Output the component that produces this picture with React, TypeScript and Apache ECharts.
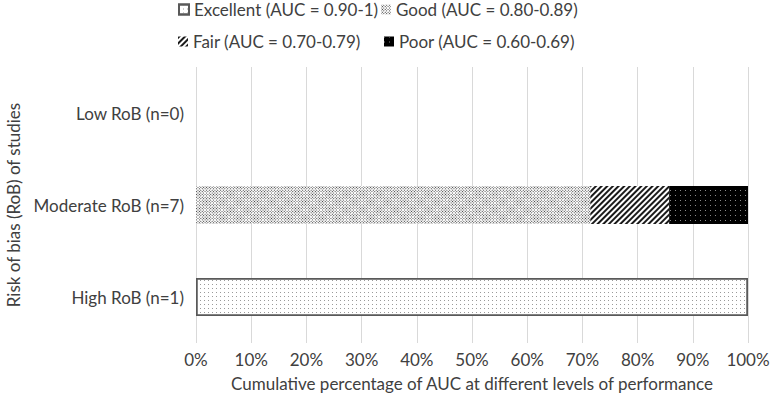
import React, { useEffect, useRef } from "react";
import * as echarts from "echarts";

const categories = ["High RoB (n=1)", "Moderate RoB (n=7)", "Low RoB (n=0)"];
const seriesNames = [
  "Excellent (AUC = 0.90-1)",
  "Good (AUC = 0.80-0.89)",
  "Fair (AUC = 0.70-0.79)",
  "Poor (AUC = 0.60-0.69)",
];
const excellent = [100, null, null];
const good = [null, 71.43, null];
const fair = [null, 14.29, null];
const poor = [null, 14.28, null];
const xTicks = { min: 0, max: 100, interval: 10 };

const FONT = "Lato";
const FS = 17;

export default function App() {
  const ref = useRef<HTMLDivElement>(null);
  useEffect(() => {
    if (!ref.current) return;
    const chart = echarts.init(ref.current, undefined, { renderer: "svg" });
    const styles: any[] = [
      {
        color: "#ffffff",
        borderColor: "#595959",
        borderWidth: 1.5,
        decal: { symbol: "rect", symbolSize: 1, dashArrayX: [1, 3], dashArrayY: [1, 3], color: "#9a9a9a" },
      },
      {
        color: "#ffffff",
        decal: { symbol: "rect", symbolSize: 1, dashArrayX: [1, 1], dashArrayY: [1, 1], rotation: Math.PI / 4, color: "#3a3a3a" },
      },
      {
        color: "#ffffff",
        decal: { symbol: "rect", symbolSize: 1, dashArrayX: [1, 0], dashArrayY: [1.3, 1.5], rotation: -Math.PI / 4, color: "#1a1a1a" },
      },
      {
        color: "#000000",
        decal: { symbol: "rect", symbolSize: 1, dashArrayX: [1, 4], dashArrayY: [1, 4], color: "#8a8a8a" },
      },
    ];
    const datas = [excellent, good, fair, poor];
    const legendPos = [
      { left: 178, top: 1 },
      { left: 381, top: 1 },
      { left: 178, top: 33 },
      { left: 384, top: 33 },
    ];
    chart.setOption({
      animation: false,
      textStyle: { fontFamily: FONT },
      legend: seriesNames.map((n, i) => ({
        data: [n],
        left: legendPos[i].left,
        top: legendPos[i].top,
        padding: 0,
        icon: "rect",
        itemWidth: 10,
        itemHeight: 10,
        itemGap: 4,
        selectedMode: false,
        textStyle: { fontFamily: FONT, fontSize: FS, color: "#404040" },
      })),
      grid: { left: 196, right: 23, top: 67, bottom: 61, outerBoundsMode: "none", containLabel: false },
      xAxis: {
        type: "value",
        ...xTicks,
        axisLabel: { formatter: "{value}%", fontSize: FS, color: "#404040", margin: 8, fontFamily: FONT },
        splitLine: { show: true, lineStyle: { color: "#d9d9d9", width: 1 } },
        axisLine: { show: false },
        axisTick: { show: false },
        name: "Cumulative percentage of AUC at different levels of performance",
        nameLocation: "middle",
        nameGap: 32,
        nameTextStyle: { fontSize: FS, color: "#404040", fontFamily: FONT },
      },
      yAxis: {
        type: "category",
        data: categories,
        axisLine: { show: false },
        axisTick: { show: false },
        axisLabel: { fontSize: FS, color: "#404040", margin: 12, fontFamily: FONT },
        name: "Risk of bias (RoB) of studies",
        nameLocation: "middle",
        nameGap: 174,
        nameRotate: 90,
        nameTextStyle: { fontSize: FS, color: "#404040", fontFamily: FONT },
      },
      series: seriesNames.map((n, i) => ({
        name: n,
        type: "bar",
        stack: "total",
        barWidth: 38,
        data: datas[i],
        itemStyle: styles[i],
        emphasis: { disabled: true },
      })),
    });
    return () => chart.dispose();
  }, []);
  return <div ref={ref} style={{ width: 771, height: 404, position: "absolute", left: 0, top: 0 }} />;
}
